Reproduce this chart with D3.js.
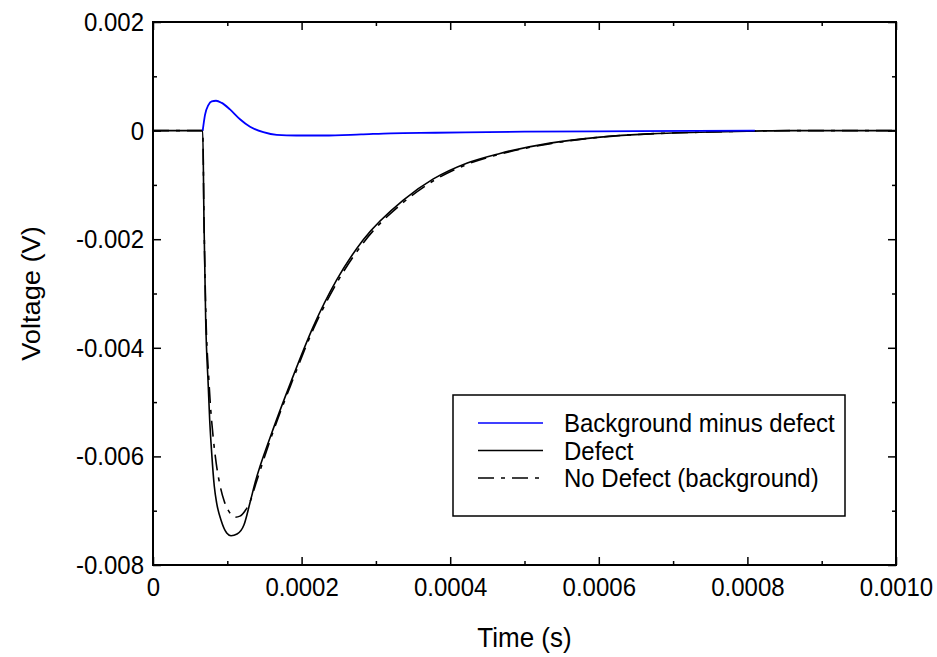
<!DOCTYPE html>
<html>
<head>
<meta charset="utf-8">
<script src="https://cdn.jsdelivr.net/npm/d3@7"></script>
<style>
  html, body { margin: 0; padding: 0; background: #fff; }
  svg text { font-family: "Liberation Sans", Arial, sans-serif; fill: #000; }
  .tall { transform-box: fill-box; transform-origin: center; transform: scaleY(1.09); }
</style>
</head>
<body>
<svg id="chart" width="937" height="657"></svg>
<script>
// Time axis (s)
const defectTime = [0, 0.0000669, 0.0000686, 0.0000709, 0.0000744, 0.0000763, 0.0000790, 0.0000825,
  0.0000857, 0.0000915, 0.0000992, 0.0001050, 0.0001131, 0.0001225, 0.0001306, 0.0001373, 0.0001598,
  0.0001867, 0.0002157, 0.0002472, 0.0002830, 0.0003369, 0.0003773, 0.0004222, 0.0004670, 0.0005343,
  0.0006016, 0.0006689, 0.0007362, 0.0008000, 0.0008600, 0.0010000];
// Voltage with defect (V)
const defectVolt = [0, 0, -0.00164, -0.00348, -0.00471, -0.00533, -0.00594, -0.00655,
  -0.00686, -0.00717, -0.00741, -0.00746, -0.00743, -0.00726, -0.00685, -0.00649, -0.00557,
  -0.00459, -0.00361, -0.00275, -0.00201, -0.00128, -0.00089, -0.00060, -0.00042, -0.00023,
  -0.00012, -0.00006, -0.00003, -0.00001, 0, 0];

const backgroundTime = [0, 0.0000669, 0.0000686, 0.0000712, 0.0000750, 0.0000775, 0.0000810, 0.0000850,
  0.0000900, 0.0000960, 0.0001030, 0.0001100, 0.0001170, 0.0001240, 0.0001310, 0.0001380, 0.0001600,
  0.0001870, 0.0002160, 0.0002480, 0.0002840, 0.0003380, 0.0003780, 0.0004230, 0.0004680, 0.0005350,
  0.0006020, 0.0006690, 0.0007360, 0.0008000, 0.0008600, 0.0010000];
// Voltage without defect (V)
const backgroundVolt = [0, 0, -0.00160, -0.00340, -0.00455, -0.00510, -0.00565, -0.00612,
  -0.00652, -0.00683, -0.00703, -0.00712, -0.00710, -0.00700, -0.00682, -0.00652, -0.00561,
  -0.00463, -0.00365, -0.00279, -0.00205, -0.00131, -0.00092, -0.00062, -0.00043, -0.00024,
  -0.00012, -0.00006, -0.00003, -0.00001, 0, 0];

const diffTime = [0.0000669, 0.0000700, 0.0000745, 0.0000790, 0.0000848, 0.0000925, 0.0001036,
  0.0001171, 0.0001306, 0.0001485, 0.0001665, 0.0001930, 0.0002300, 0.0002800, 0.0003200,
  0.0003800, 0.0005000, 0.0006500, 0.0008100];
// Background minus defect (V)
const diffVolt = [0, 0.00029, 0.00047, 0.00054, 0.00055, 0.00051, 0.00039,
  0.00021, 0.00007, -0.00003, -0.00008, -0.00009, -0.00009, -0.00007, -0.00005,
  -0.00004, -0.00002, -0.00001, 0];

const xTicks = [0, 0.0002, 0.0004, 0.0006, 0.0008, 0.0010];
const xMinorTicks = [0.0001, 0.0003, 0.0005, 0.0007, 0.0009];
const yTicks = [0.002, 0, -0.002, -0.004, -0.006, -0.008];
const yMinorTicks = [0.001, -0.001, -0.003, -0.005, -0.007];

const seriesNames = ["Background minus defect", "Defect", "No Defect (background)"];

const svg = d3.select("#chart");
const L = 153, R = 896, T = 22, B = 565;

const x = d3.scaleLinear().domain([0, 0.001]).range([L, R]);
const y = d3.scaleLinear().domain([-0.008, 0.002]).range([B, T]);

const xFmt = d => d === 0 ? "0" : d.toFixed(4);
const yFmt = d => d === 0 ? "0" : d.toFixed(3);

// inward ticks on all four sides
function drawAxis(axis, tx, ty, showLabels) {
  const g = svg.append("g").attr("transform", `translate(${tx},${ty})`).call(axis);
  g.select(".domain").remove();
  g.selectAll(".tick line").attr("stroke", "#000").attr("stroke-width", 1.5);
  if (!showLabels) g.selectAll(".tick text").remove();
  else g.selectAll(".tick text").attr("font-size", 24).attr("class", "tall");
  return g;
}

drawAxis(d3.axisBottom(x).tickValues(xTicks).tickSize(-8).tickPadding(13).tickFormat(xFmt), 0, B, true);
drawAxis(d3.axisBottom(x).tickValues(xMinorTicks).tickSize(-4), 0, B, false);
drawAxis(d3.axisTop(x).tickValues(xTicks).tickSize(-8), 0, T, false);
drawAxis(d3.axisTop(x).tickValues(xMinorTicks).tickSize(-4), 0, T, false);
drawAxis(d3.axisLeft(y).tickValues(yTicks).tickSize(-8).tickPadding(9).tickFormat(yFmt), L, 0, true);
drawAxis(d3.axisLeft(y).tickValues(yMinorTicks).tickSize(-4), L, 0, false);
drawAxis(d3.axisRight(y).tickValues(yTicks).tickSize(-8), R, 0, false);
drawAxis(d3.axisRight(y).tickValues(yMinorTicks).tickSize(-4), R, 0, false);

svg.append("rect")
  .attr("x", L).attr("y", T).attr("width", R - L).attr("height", B - T)
  .attr("fill", "none").attr("stroke", "#000").attr("stroke-width", 2);

const line = d3.line().x(d => x(d[0])).y(d => y(d[1])).curve(d3.curveMonotoneX);
const plot = svg.append("g");

plot.append("path")
  .datum(d3.zip(backgroundTime, backgroundVolt))
  .attr("d", line).attr("fill", "none").attr("stroke", "#000")
  .attr("stroke-width", 1.6).attr("stroke-dasharray", "16,7,4,7");

plot.append("path")
  .datum(d3.zip(defectTime, defectVolt))
  .attr("d", line).attr("fill", "none").attr("stroke", "#000").attr("stroke-width", 1.6);

plot.append("path")
  .datum(d3.zip(diffTime, diffVolt))
  .attr("d", line).attr("fill", "none").attr("stroke", "#0000ff").attr("stroke-width", 1.8);

// axis titles
svg.append("text")
  .attr("x", (L + R) / 2).attr("y", 646)
  .attr("text-anchor", "middle").attr("font-size", 26).attr("class", "tall")
  .text("Time (s)");

svg.append("text")
  .attr("transform", `translate(31,${(T + B) / 2}) rotate(-90) scale(1.09,1)`)
  .attr("text-anchor", "middle").attr("dy", "0.35em").attr("font-size", 25)
  .text("Voltage (V)");

// legend
const legend = svg.append("g");
legend.append("rect")
  .attr("x", 453).attr("y", 395).attr("width", 392).attr("height", 121)
  .attr("fill", "#fff").attr("stroke", "#000").attr("stroke-width", 1.5);

const legendStyles = [
  { color: "#0000ff", dash: null },
  { color: "#000", dash: null },
  { color: "#000", dash: "16,7,4,7" }
];
seriesNames.forEach((name, i) => {
  const yy = 423 + i * 27.5;
  legend.append("line")
    .attr("x1", 478).attr("x2", 543).attr("y1", yy).attr("y2", yy)
    .attr("stroke", legendStyles[i].color).attr("stroke-width", 1.5)
    .attr("stroke-dasharray", legendStyles[i].dash);
  legend.append("text")
    .attr("x", 564).attr("y", yy).attr("dy", "0.35em")
    .attr("font-size", 24).attr("class", "tall")
    .text(name);
});
</script>
</body>
</html>
